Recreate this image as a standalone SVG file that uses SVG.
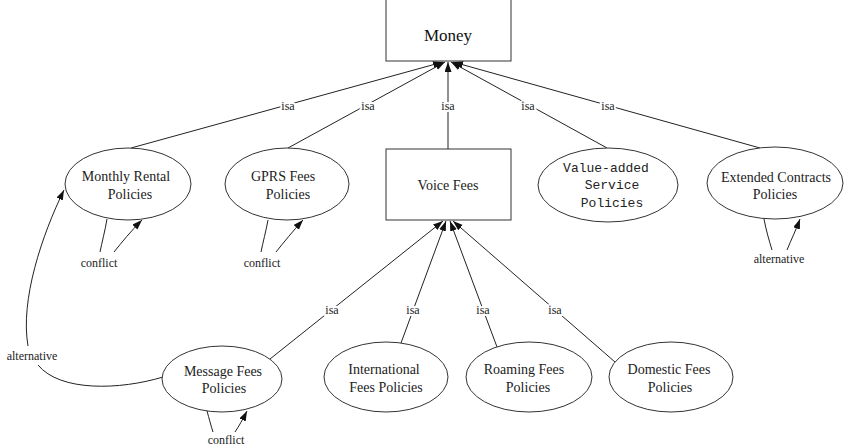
<svg xmlns="http://www.w3.org/2000/svg" width="846" height="448" viewBox="0 0 846 448">
  <style>
    .shape { fill: #ffffff; stroke: #333333; stroke-width: 1; }
    .edge { fill: none; stroke: #222222; stroke-width: 1; }
    .name { font-family: "Liberation Serif", "Times New Roman", serif; font-size: 14px; fill: #222222; text-anchor: middle; }
    .mono { font-family: "Liberation Mono", "Courier New", monospace; font-size: 13px; fill: #222222; text-anchor: middle; }
    .title { font-family: "Liberation Serif", "Times New Roman", serif; font-size: 17px; fill: #111111; text-anchor: middle; }
    .lbl { font-family: "Liberation Serif", "Times New Roman", serif; font-size: 12px; fill: #222222; text-anchor: middle;
           stroke: #ffffff; stroke-width: 4; stroke-linejoin: round; paint-order: stroke; }
  </style>
  <defs>
    <marker id="arrow" markerUnits="userSpaceOnUse" markerWidth="10" markerHeight="8" refX="10" refY="3.5" orient="auto">
      <path d="M0,0 L10,3.5 L0,7 z" fill="#111111"/>
    </marker>
  </defs>
  <rect width="846" height="448" fill="#ffffff"/>

  <!-- connectors -->
  <g id="edges">
    <!-- isa links up to Money -->
    <path class="edge" d="M131,148 L443,62" marker-end="url(#arrow)"/>
    <path class="edge" d="M288,148 L445,62" marker-end="url(#arrow)"/>
    <path class="edge" d="M448,149 L448,62" marker-end="url(#arrow)"/>
    <path class="edge" d="M607,148 L451,62" marker-end="url(#arrow)"/>
    <path class="edge" d="M760,148 L453,62" marker-end="url(#arrow)"/>
    <!-- isa links up to Voice Fees -->
    <path class="edge" d="M270,359 L443,221" marker-end="url(#arrow)"/>
    <path class="edge" d="M401,343 L446,221" marker-end="url(#arrow)"/>
    <path class="edge" d="M497,347 L450,221" marker-end="url(#arrow)"/>
    <path class="edge" d="M615,362 L453,221" marker-end="url(#arrow)"/>
    <!-- self loops -->
    <path class="edge" d="M107,219 C105,231 102,242 100,252"/>
    <path class="edge" d="M114,252 C122,242 131,231 142,220" marker-end="url(#arrow)"/>
    <path class="edge" d="M268,220 C266,231 263,242 261,252"/>
    <path class="edge" d="M276,252 C284,242 293,231 303,220" marker-end="url(#arrow)"/>
    <path class="edge" d="M764,219 C766,230 769,240 772,250"/>
    <path class="edge" d="M787,250 C791,240 796,230 800,219" marker-end="url(#arrow)"/>
    <path class="edge" d="M207,411 C209,418 211,426 213,432"/>
    <path class="edge" d="M235,432 C239,426 243,419 247,411" marker-end="url(#arrow)"/>
    <!-- alternative: Message Fees to Monthly Rental -->
    <path class="edge" d="M163,377 C120,390 60,392 38,365"/>
    <path class="edge" d="M28,346 C20,300 42,235 64,190" marker-end="url(#arrow)"/>

    <!-- edge labels -->
    <text class="lbl" x="288" y="110">isa</text>
    <text class="lbl" x="368" y="110">isa</text>
    <text class="lbl" x="448" y="110">isa</text>
    <text class="lbl" x="528" y="110">isa</text>
    <text class="lbl" x="608" y="110">isa</text>
    <text class="lbl" x="332" y="314">isa</text>
    <text class="lbl" x="413" y="314">isa</text>
    <text class="lbl" x="483" y="314">isa</text>
    <text class="lbl" x="555" y="314">isa</text>
    <text class="lbl" x="99" y="267">conflict</text>
    <text class="lbl" x="262" y="267">conflict</text>
    <text class="lbl" x="779" y="263">alternative</text>
    <text class="lbl" x="226" y="444">conflict</text>
    <text class="lbl" x="32" y="360">alternative</text>
  </g>

  <!-- nodes -->
  <g id="money">
    <rect class="shape" x="386" y="-20" width="125" height="81"/>
    <text class="title" x="448" y="41">Money</text>
  </g>
  <g id="voice-fees">
    <rect class="shape" x="386" y="149" width="125" height="71"/>
    <text class="name" x="448" y="190">Voice Fees</text>
  </g>
  <g id="monthly-rental">
    <ellipse class="shape" cx="128" cy="184" rx="63" ry="36"/>
    <text class="name" x="126" y="181">Monthly Rental</text>
    <text class="name" x="130" y="199">Policies</text>
  </g>
  <g id="gprs-fees">
    <ellipse class="shape" cx="287" cy="184" rx="62" ry="36"/>
    <text class="name" x="283" y="181">GPRS Fees</text>
    <text class="name" x="288" y="199">Policies</text>
  </g>
  <g id="value-added">
    <ellipse class="shape" cx="608" cy="185" rx="70" ry="37"/>
    <text class="mono" x="606" y="172">Value-added</text>
    <text class="mono" x="612" y="189">Service</text>
    <text class="mono" x="612" y="207">Policies</text>
  </g>
  <g id="extended-contracts">
    <ellipse class="shape" cx="775" cy="183" rx="68" ry="36"/>
    <text class="name" x="776" y="182">Extended Contracts</text>
    <text class="name" x="775" y="199">Policies</text>
  </g>
  <g id="message-fees">
    <ellipse class="shape" cx="222" cy="379" rx="60" ry="33"/>
    <text class="name" x="223" y="376">Message Fees</text>
    <text class="name" x="224" y="393">Policies</text>
  </g>
  <g id="international-fees">
    <ellipse class="shape" cx="386" cy="377" rx="62" ry="35"/>
    <text class="name" x="384" y="374">International</text>
    <text class="name" x="386" y="392">Fees Policies</text>
  </g>
  <g id="roaming-fees">
    <ellipse class="shape" cx="529" cy="377" rx="63" ry="35"/>
    <text class="name" x="524" y="374">Roaming Fees</text>
    <text class="name" x="528" y="392">Policies</text>
  </g>
  <g id="domestic-fees">
    <ellipse class="shape" cx="671" cy="377" rx="62" ry="35"/>
    <text class="name" x="669" y="374">Domestic Fees</text>
    <text class="name" x="670" y="392">Policies</text>
  </g>
</svg>
